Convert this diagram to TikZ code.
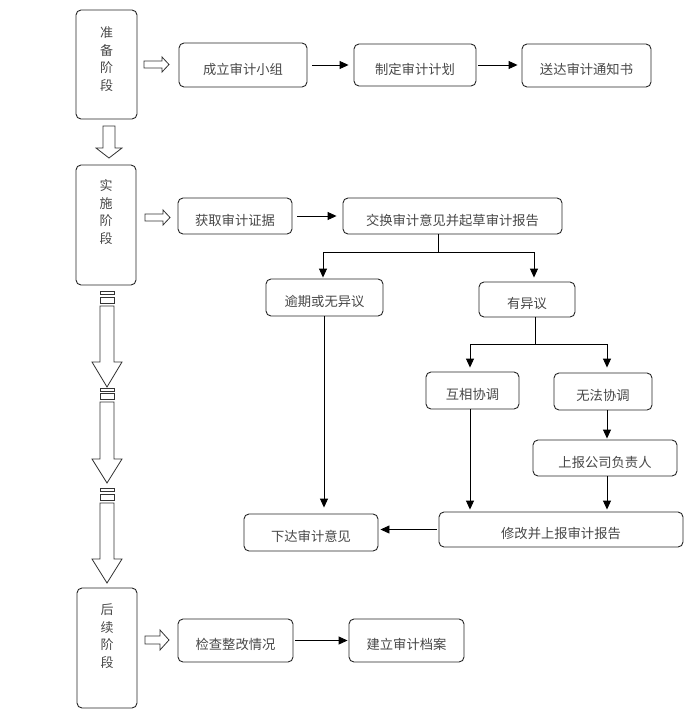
\documentclass[tikz,border=0pt]{standalone}
\usepackage{fontspec}
\newfontfamily\cjk{Noto Sans CJK SC}
\usetikzlibrary{arrows.meta,calc}
\begin{document}
\begin{tikzpicture}[x=1pt,y=-1pt,
  box/.style={draw=black!85, line width=0.9pt, rounded corners=5pt, font=\cjk\fontsize{13.3}{16}\selectfont, text=black!72, inner sep=0pt, text height=18.5pt, text depth=0pt},
  stxt/.style={font=\cjk\fontsize{13}{17.5}\selectfont, text=black!72, align=center, inner sep=0pt},
  arr/.style={draw=black, line width=0.9pt, -{Triangle[length=9pt,width=8pt]}},
  ln/.style={draw=black, line width=0.9pt},
  hol/.style={draw=black!80, line width=0.8pt, fill=white}]
\path[use as bounding box] (0,0) rectangle (691,715);

% stage boxes
\node[box, minimum width=61pt, minimum height=109pt] (p1) at (106.5,64.5) {};
\node[box, minimum width=60pt, minimum height=120pt] (p2) at (106,225) {};
\node[box, minimum width=60pt, minimum height=120pt] (p3) at (107,648) {};
\node[stxt] (p1t) at ($(p1.north)+(0,49.5)$) {准\\备\\阶\\段};
\node[stxt] (p2t) at ($(p2.north)+(0,47.5)$) {实\\施\\阶\\段};
\node[stxt] (p3t) at ($(p3.north)+(0,48.5)$) {后\\续\\阶\\段};

% process boxes
\node[box, minimum width=128pt, minimum height=44pt] (a1) at (243,65) {成立审计小组};
\node[box, minimum width=122pt, minimum height=42pt] (a2) at (415,65) {制定审计计划};
\node[box, minimum width=129pt, minimum height=43pt] (a3) at (586.5,65.5) {送达审计通知书};
\node[box, minimum width=114pt, minimum height=36pt] (b1) at (235,216) {获取审计证据};
\node[box, minimum width=219pt, minimum height=36pt] (b2) at (452.5,216) {交换审计意见并起草审计报告};
\node[box, minimum width=117pt, minimum height=37pt] (c1) at (324.5,297.5) {逾期或无异议};
\node[box, minimum width=96pt, minimum height=35pt] (c2) at (527,299.5) {有异议};
\node[box, minimum width=93pt, minimum height=37pt] (d1) at (472.5,390.5) {互相协调};
\node[box, minimum width=98pt, minimum height=37pt] (d2) at (603,391.5) {无法协调};
\node[box, minimum width=144pt, minimum height=36pt] (e1) at (605,458) {上报公司负责人};
\node[box, minimum width=244pt, minimum height=35pt] (f1) at (561,529.5) {修改并上报审计报告};
\node[box, minimum width=134pt, minimum height=37pt] (f2) at (311,532.5) {下达审计意见};
\node[box, minimum width=115pt, minimum height=43pt] (g1) at (235.5,640.5) {检查整改情况};
\node[box, minimum width=115pt, minimum height=43pt] (g2) at (406.5,640.5) {建立审计档案};

% connectors
\draw[arr, shorten <=5pt, shorten >=5pt] (a1.east) -- (a1.east -| a2.west);
\draw[arr, shorten <=2pt, shorten >=4pt] (a2.east) -- (a2.east -| a3.west);
\draw[arr, shorten <=5pt, shorten >=6pt] (b1.east) -- (b1.east -| b2.west);
\draw[arr, shorten <=2pt, shorten >=1pt] (g1.east) -- (g1.east -| g2.west);

\coordinate (j1) at (438,252);
\draw[ln] (b2.south -| j1) -- (j1);
\draw[arr, shorten >=1pt] (j1) -| ([xshift=-1.5pt]c1.north);
\draw[arr, shorten >=4pt] (j1) -| ([xshift=7pt]c2.north);

\coordinate (j2) at (535,344);
\draw[ln] (c2.south -| j2) -- (j2);
\draw[arr, shorten >=4pt] (j2) -| ([xshift=-2.5pt]d1.north);
\draw[arr, shorten >=5pt] (j2) -| ([xshift=4pt]d2.north);

\draw[arr, shorten >=1pt] ([xshift=2pt]e1.north |- d2.south) -- ([xshift=2pt]e1.north);
\draw[arr, shorten >=2pt] ([xshift=2pt]e1.south) -- ([xshift=2pt]e1.south |- f1.north);
\draw[arr, shorten >=2pt] ([xshift=-2.5pt]d1.south) -- ([xshift=-2.5pt]d1.south |- f1.north);
\draw[arr, shorten >=6pt] ([xshift=-0.5pt]c1.south) -- ([xshift=-0.5pt]c1.south |- f2.north);
\draw[arr, shorten <=2pt, shorten >=2pt] (f1.west) -- (f1.west -| f2.east);

% hollow block arrows (right)
\draw[hol] (144,61) -- (162,61) -- (162,57) -- (169,64.5) -- (162,72) -- (162,68) -- (144,68) -- cycle;
\draw[hol] (145,214) -- (163,214) -- (163,210) -- (170,217.5) -- (163,225) -- (163,221) -- (145,221) -- cycle;
\draw[hol] (145,636) -- (160,636) -- (160,630) -- (169,640) -- (160,650) -- (160,644) -- (145,644) -- cycle;

% hollow block arrow (down, first)
\draw[hol] (103,126) -- (115,126) -- (115,148) -- (122,148) -- (109,158) -- (96,148) -- (103,148) -- cycle;

% long striped block arrows
\foreach \t/\r/\s/\h/\tip in {291/297/306/362/387, 388/393/402/459/483, 488/494/503/559/583}{
  \draw[hol] (100,\t) rectangle (114,\t+3);
  \draw[hol] (100,\r) rectangle (114,\r+6);
  \draw[hol] (100,\s) -- (114,\s) -- (114,\h) -- (122,\h) -- (107,\tip) -- (92,\h) -- (100,\h) -- cycle;
}
\end{tikzpicture}
\end{document}
